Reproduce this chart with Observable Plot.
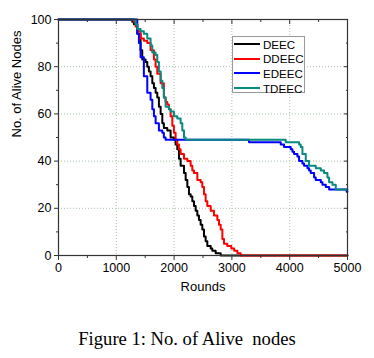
<!DOCTYPE html>
<html>
<head>
<meta charset="utf-8">
<script src="https://cdn.jsdelivr.net/npm/d3@7"></script>
<script src="https://cdn.jsdelivr.net/npm/@observablehq/plot@0.6"></script>
<style>
  html, body { margin: 0; padding: 0; background: #fff; }
  #wrap { position: relative; width: 374px; height: 358px; overflow: hidden; }
  #legend { position: absolute; left: 232px; top: 36px; width: 71px; height: 55px;
            border: 1px solid #9a9a9a; background: #fff; font-family: Arial, "Liberation Sans", sans-serif; font-size: 11.6px; }
  .row { position: absolute; left: 0; height: 14px; display: flex; align-items: center; }
  .sw { width: 26px; height: 2px; margin-left: 1px; margin-right: 3px; }
  #caption { position: absolute; left: 0; width: 374px; top: 329.5px; line-height: 1; text-align: center;
             font-family: "Times New Roman", "Liberation Serif", serif; font-size: 18.6px; white-space: pre; color: #000; }
</style>
</head>
<body>
<div id="wrap">
  <div id="chart"></div>
  <div id="legend"></div>
  <div id="caption"></div>
</div>
<script>
// Series names and colours
const seriesNames = ["DEEC", "DDEEC", "EDEEC", "TDEEC"];
const seriesColors = ["#000000", "#ff0000", "#0000ff", "#078a80"];

// DEEC
const deecRounds = [0, 1190, 1276, 1304, 1363, 1420, 1449, 1507, 1536, 1564, 1593, 1623, 1651, 1680, 1709, 1737, 1767, 1796, 1823, 1882, 1940, 1997, 2026, 2055, 2084, 2113, 2171, 2200, 2229, 2257, 2286, 2315, 2344, 2373, 2402, 2430, 2459, 2488, 2517, 2546, 2575, 2633, 2661, 2719, 2806, 5000];
const deecAlive  = [100, 100, 99, 98, 94, 87, 83, 82, 80, 78, 76, 73, 71, 69, 67, 63, 60, 56, 54, 53, 50, 49, 47, 45, 41, 38, 35, 32, 29, 26, 25, 23, 21, 19, 17, 15, 13, 11, 8, 6, 4, 3, 2, 1, 0, 0];

// DDEEC
const ddeecRounds = [0, 1276, 1304, 1334, 1363, 1420, 1477, 1536, 1593, 1651, 1680, 1709, 1767, 1823, 1853, 1882, 1910, 1940, 1969, 1997, 2026, 2055, 2084, 2113, 2171, 2229, 2286, 2315, 2344, 2402, 2459, 2488, 2517, 2546, 2575, 2633, 2690, 2748, 2777, 2806, 2835, 2863, 2920, 2990, 3040, 3095, 3152, 5000];
const ddeecAlive  = [100, 100, 99, 97, 95, 92, 91, 90, 87, 83, 80, 77, 73, 67, 65, 64, 62, 59, 55, 52, 49, 47, 45, 43, 41, 40, 38, 36, 35, 32, 31, 29, 26, 23, 21, 19, 17, 15, 13, 11, 7, 5, 4, 3, 2, 1, 0, 0];

// EDEEC
const edeecRounds = [0, 1334, 1363, 1391, 1420, 1477, 1536, 1593, 1623, 1651, 1680, 1737, 1796, 1823, 1853, 3296, 3845, 3902, 4018, 4047, 4076, 4133, 4162, 4220, 4249, 4307, 4335, 4364, 4422, 4451, 4538, 4567, 4624, 4682, 4985, 5000];
const edeecAlive  = [100, 100, 94, 90, 84, 76, 69, 66, 62, 59, 56, 53, 52, 50, 49, 48, 47, 46, 45, 44, 43, 42, 40, 39, 38, 37, 36, 35, 33, 32, 31, 30, 29, 28, 27, 27];

// TDEEC
const tdeecRounds = [0, 1304, 1334, 1363, 1420, 1477, 1536, 1593, 1623, 1680, 1709, 1737, 1767, 1796, 1823, 1853, 1910, 1940, 1997, 2055, 2113, 2142, 2171, 2200, 3931, 4162, 4191, 4220, 4278, 4335, 4451, 4538, 4595, 4653, 4682, 4740, 4797, 5000];
const tdeecAlive  = [100, 100, 98, 96, 95, 94, 92, 89, 86, 85, 82, 78, 74, 71, 67, 63, 62, 61, 59, 58, 56, 53, 50, 49, 48, 47, 46, 43, 40, 38, 37, 36, 35, 33, 31, 30, 28, 28];

// Axis ticks
const xMajorTicks = [0, 1000, 2000, 3000, 4000, 5000];
const xMinorTicks = [500, 1500, 2500, 3500, 4500];
const yMajorTicks = [0, 20, 40, 60, 80, 100];
const yMinorTicks = [10, 30, 50, 70, 90];
const xGrid = [1000, 2000, 3000, 4000];
const yGrid = [20, 40, 60, 80];

const allRounds = [deecRounds, ddeecRounds, edeecRounds, tdeecRounds];
const allAlive = [deecAlive, ddeecAlive, edeecAlive, tdeecAlive];

const seriesData = seriesNames.map((name, i) =>
  allRounds[i].map((r, j) => ({series: name, round: r, alive: allAlive[i][j]}))
);

const font = "Arial, 'Liberation Sans', sans-serif";
const gridStyle = {stroke: "#a9c4a9", strokeOpacity: 1, strokeDasharray: "1,2", strokeWidth: 1};
const fmt = d => String(d);

const chart = Plot.plot({
  width: 374,
  height: 305,
  marginLeft: 58,
  marginRight: 27,
  marginTop: 19,
  marginBottom: 50,
  style: {fontFamily: font, fontSize: "12.5px", background: "transparent", color: "#000"},
  x: {domain: [0, 5000]},
  y: {domain: [0, 100]},
  color: {domain: seriesNames, range: seriesColors},
  marks: [
    Plot.gridX(xGrid, gridStyle),
    Plot.gridY(yGrid, gridStyle),
    ...seriesData.map(d => Plot.line(d, {x: "round", y: "alive", stroke: "series", curve: "step-after", strokeWidth: 2})),
    Plot.frame({stroke: "#333", strokeWidth: 1.2}),
    Plot.axisX(xMajorTicks, {anchor: "bottom", tickSize: 5, tickPadding: 3, tickFormat: fmt, label: null, stroke: "#333", fill: "#000"}),
    Plot.axisX(xMinorTicks, {anchor: "bottom", tickSize: 3, text: null, label: null, stroke: "#333"}),
    Plot.axisX(xMajorTicks.slice(1, -1), {anchor: "top", tickSize: 4, dy: 4, text: null, label: null, stroke: "#333"}),
    Plot.axisX(xMinorTicks, {anchor: "top", tickSize: 2, dy: 2, text: null, label: null, stroke: "#333"}),
    Plot.axisY(yMajorTicks, {anchor: "left", tickSize: 4, tickPadding: 3, tickFormat: fmt, label: null, stroke: "#333", fill: "#000"}),
    Plot.axisY(yMinorTicks, {anchor: "left", tickSize: 2, text: null, label: null, stroke: "#333"}),
    Plot.axisY(yMajorTicks.slice(1, -1), {anchor: "right", tickSize: 4, dx: -4, text: null, label: null, stroke: "#333"}),
    Plot.axisY(yMinorTicks, {anchor: "right", tickSize: 2, dx: -2, text: null, label: null, stroke: "#333"}),
    Plot.text(["Rounds"], {frameAnchor: "bottom", dy: 35, fontSize: 13, fill: "#000"}),
    Plot.text(["No. of Alive Nodes"], {frameAnchor: "left", dx: -42, rotate: -90, fontSize: 13, fill: "#000"})
  ]
});
document.getElementById("chart").appendChild(chart);

// Legend
const legend = document.getElementById("legend");
const rowTops = [0, 14.5, 29, 44];
seriesNames.forEach((name, i) => {
  const row = document.createElement("div");
  row.className = "row";
  row.style.top = rowTops[i] + "px";
  const sw = document.createElement("div");
  sw.className = "sw";
  sw.style.background = seriesColors[i];
  const t = document.createElement("span");
  t.textContent = name;
  row.appendChild(sw);
  row.appendChild(t);
  legend.appendChild(row);
});

// Caption
document.getElementById("caption").textContent = "Figure 1: No. of Alive  nodes";
</script>
</body>
</html>
